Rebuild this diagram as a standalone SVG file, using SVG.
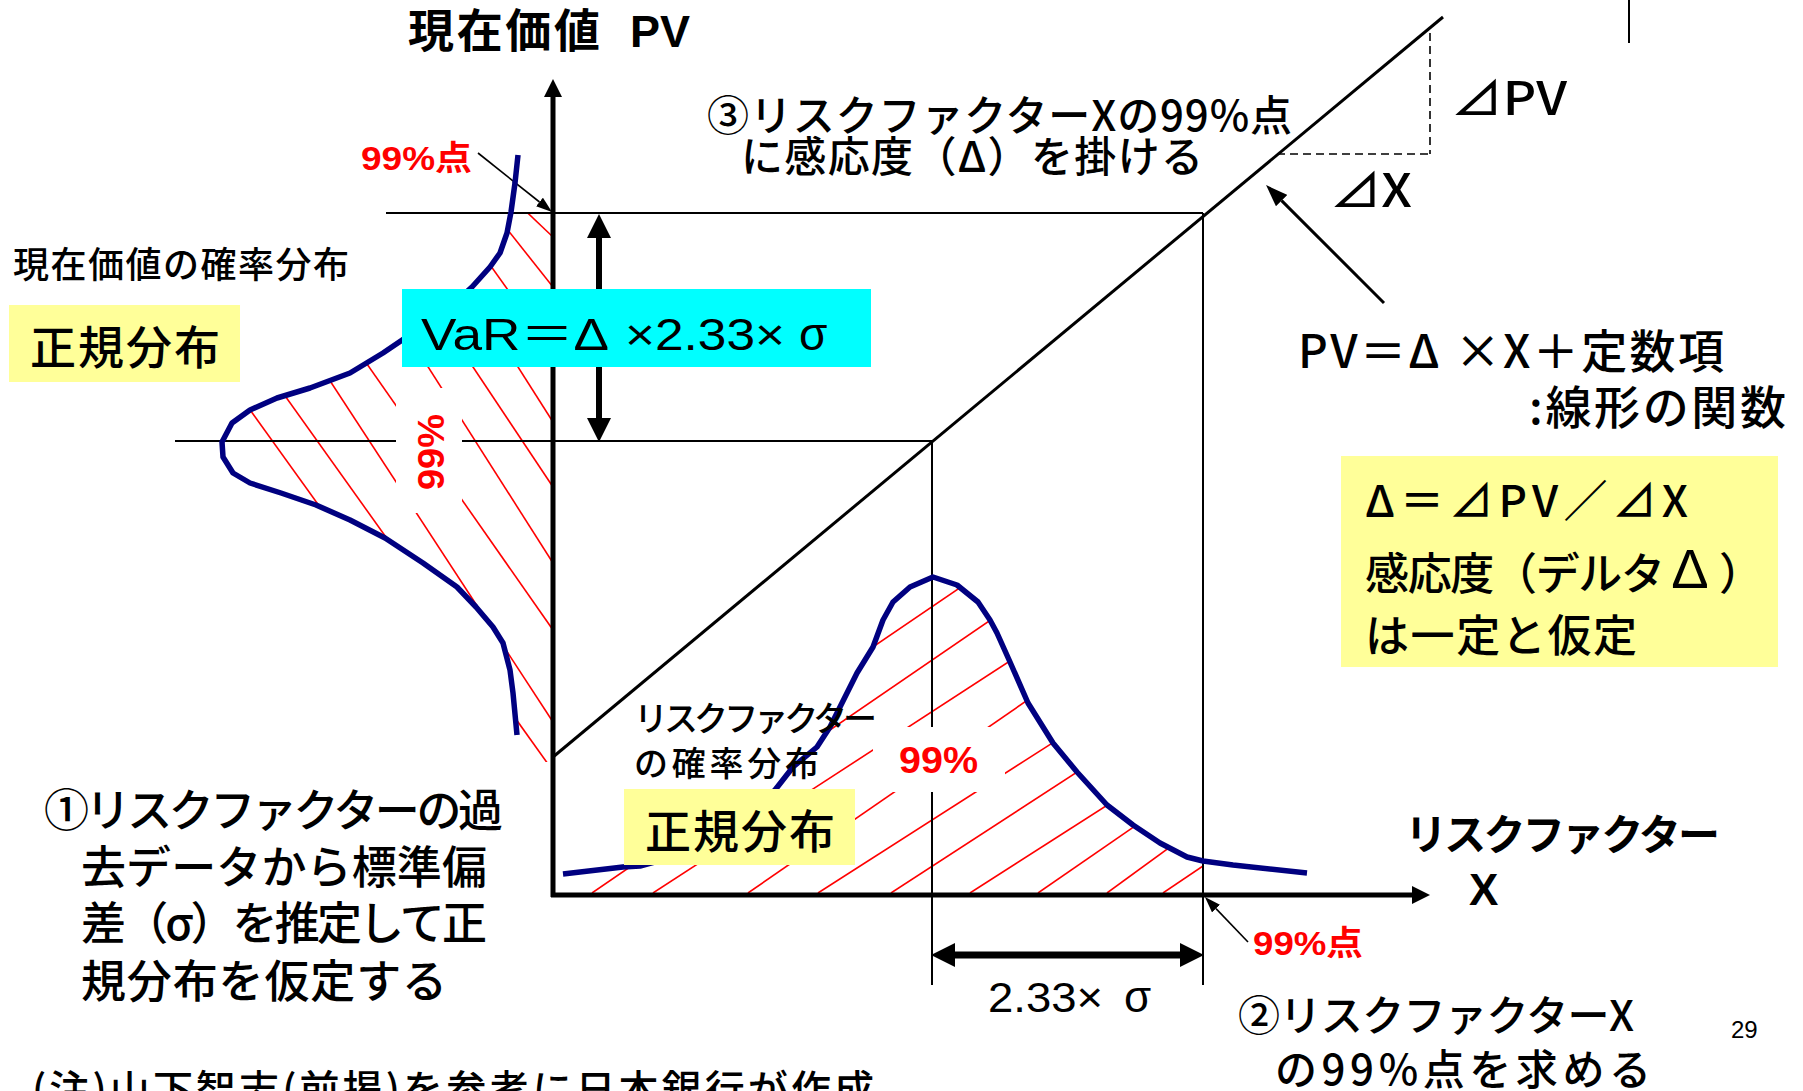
<svg xmlns="http://www.w3.org/2000/svg" width="1803" height="1091" viewBox="0 0 1803 1091">
<style>
.jp{font-family:"Noto Sans CJK JP","Noto Sans CJK SC",sans-serif;fill:#000;font-weight:500}
.lat{font-family:"Liberation Sans","Noto Sans CJK JP",sans-serif;fill:#000}
.b{font-weight:bold}
.red{fill:#f00;font-weight:bold}
.hatch line{stroke:#f00;stroke-width:1.6}
.thin{stroke:#000;stroke-width:2;fill:none}
.dash{stroke:#000;stroke-width:1.6;stroke-dasharray:8 5;fill:none}
.curve{stroke:#000080;stroke-width:5.5;fill:none;stroke-linejoin:round}
.axis{stroke:#000;stroke-width:5;fill:none}
.yel{fill:#ffff99}
</style>
<defs>
<marker id="ah" markerUnits="userSpaceOnUse" markerWidth="24" markerHeight="24" refX="0" refY="12" orient="auto-start-reverse"><path d="M0,0L24,12L0,24Z" fill="#000"/></marker>
<marker id="ax" markerUnits="userSpaceOnUse" markerWidth="18" markerHeight="18" refX="0" refY="9" orient="auto"><path d="M0,0L18,9L0,18Z" fill="#000"/></marker>
<marker id="la" markerUnits="userSpaceOnUse" markerWidth="16" markerHeight="11" refX="0" refY="5.5" orient="auto"><path d="M0,0L16,5.5L0,11Z" fill="#000"/></marker>
<marker id="lb" markerUnits="userSpaceOnUse" markerWidth="22" markerHeight="16" refX="0" refY="8" orient="auto"><path d="M0,0L22,8L0,16Z" fill="#000"/></marker>
<clipPath id="clipL"><polygon points="511,213 507,233 500,253 490,267 472,287 450,307 417,330 383,353 350,373 310,388 277,398 250,410 232,423 222,442 223,457 233,473 250,483 281,493 316,505 350,520 385,538 423,563 457,587 476,607 493,627 503,643 510,670 513,693 517,735 522,748 545,762 553,762 553,213"/></clipPath>
<clipPath id="clipB"><polygon points="563,873 623,867 640,866 680,855 720,838 750,815 775,790 793,767 817,747 830,727 840,707 857,673 873,647 883,620 893,602 910,587 933,577 957,585 978,602 990,620 997,633 1010,662 1028,703 1053,743 1077,772 1107,805 1133,825 1160,843 1187,857 1203,861 1203,893 563,893"/></clipPath>
</defs>
<rect width="1803" height="1091" fill="#fff"/>

<g id="hatch-pv" class="hatch" clip-path="url(#clipL)">
<line x1="203" y1="-95.5" x2="553" y2="237"/>
<line x1="203" y1="-154" x2="553" y2="287"/>
<line x1="203" y1="-137" x2="553" y2="353"/>
<line x1="203" y1="-127.5" x2="553" y2="422"/>
<line x1="203" y1="-38" x2="553" y2="487"/>
<line x1="203" y1="13.5" x2="553" y2="563"/>
<line x1="203" y1="129.5" x2="553" y2="630"/>
<line x1="203" y1="186.5" x2="553" y2="722"/>
<line x1="203" y1="281" x2="553" y2="771"/>
<line x1="203" y1="344.5" x2="553" y2="831"/>
</g>
<g id="hatch-x" class="hatch" clip-path="url(#clipB)">
<line x1="511" y1="893" x2="1011" y2="553"/>
<line x1="592" y1="893" x2="1092" y2="550.5"/>
<line x1="653" y1="893" x2="1153" y2="568"/>
<line x1="748" y1="893" x2="1248" y2="548"/>
<line x1="818" y1="893" x2="1318" y2="573"/>
<line x1="891" y1="893" x2="1391" y2="568"/>
<line x1="970" y1="893" x2="1470" y2="573"/>
<line x1="1038" y1="893" x2="1538" y2="548"/>
<line x1="1107" y1="893" x2="1607" y2="528"/>
<line x1="1163" y1="893" x2="1663" y2="555.5"/>
</g>

<g id="connectors">
<line class="thin" x1="386" y1="213" x2="1203" y2="213"/>
<line class="thin" x1="175" y1="441" x2="932" y2="441"/>
<line class="thin" x1="1203" y1="213" x2="1203" y2="985"/>
<line class="thin" x1="932" y1="441" x2="932" y2="985"/>
<line class="thin" x1="1629" y1="0" x2="1629" y2="43"/>
<line stroke="#000" stroke-width="3" x1="553" y1="757" x2="1443" y2="17"/>
<line class="dash" x1="1430" y1="33" x2="1430" y2="154"/>
<line class="dash" x1="1277" y1="154" x2="1430" y2="154"/>
<line class="axis" x1="553" y1="897" x2="553" y2="97" marker-end="url(#ax)"/>
<line class="axis" x1="551" y1="895" x2="1412" y2="895" marker-end="url(#ax)"/>
<line stroke="#000" stroke-width="6" x1="599" y1="238" x2="599" y2="418" marker-start="url(#ah)" marker-end="url(#ah)"/>
<line stroke="#000" stroke-width="7" x1="955" y1="955" x2="1180" y2="955" marker-start="url(#ah)" marker-end="url(#ah)"/>
<line stroke="#000" stroke-width="1.6" x1="478" y1="153" x2="539.5" y2="202" marker-end="url(#la)"/>
<line stroke="#000" stroke-width="1.6" x1="1248" y1="942" x2="1216" y2="908.6" marker-end="url(#la)"/>
<line stroke="#000" stroke-width="3" x1="1384" y1="303" x2="1281.6" y2="200.6" marker-end="url(#lb)"/>
</g>

<g id="curve-pv">
<polyline class="curve" points="518,155 515,183 511,212 507,233 500,253 490,267 472,287 450,307 417,330 383,353 350,373 310,388 277,398 250,410 232,423 222,442 223,457 233,473 250,483 281,493 316,505 350,520 385,538 423,563 457,587 476,607 493,627 503,643 510,670 513,693 517,735"/>
</g>
<g id="curve-x">
<polyline class="curve" points="563,874 623,867 640,866 680,855 720,838 750,815 775,790 793,767 817,747 830,727 840,707 857,673 873,647 883,620 893,602 910,587 933,577 957,585 978,602 990,620 997,633 1010,662 1028,703 1053,743 1077,772 1107,805 1133,825 1160,843 1187,857 1203,861 1233,865 1307,873"/>
</g>

<g id="label-99-pv">
<rect x="396" y="388" width="66" height="125" fill="#fff"/>
<text class="lat red" font-size="36" text-anchor="middle" transform="translate(444,452) rotate(-90)" textLength="76" lengthAdjust="spacingAndGlyphs">99%</text>
</g>
<g id="label-99-x">
<rect x="873" y="727" width="132" height="65" fill="#fff"/>
<text class="lat red" font-size="36" x="899" y="773" textLength="79" lengthAdjust="spacingAndGlyphs">99%</text>
</g>

<g id="title">
<text class="jp b" font-size="46" x="408" y="47" textLength="192">現在価値</text>
<text class="lat b" font-size="44" x="630" y="47" textLength="60" lengthAdjust="spacingAndGlyphs">PV</text>
</g>
<g id="pt99-pv"><text class="lat red" font-size="34" x="361" y="170" textLength="111" lengthAdjust="spacingAndGlyphs">99%点</text></g>
<g id="pv-dist-label"><text class="jp" font-size="36" x="13" y="278" textLength="336">現在価値の確率分布</text></g>
<g id="box-normal-pv">
<rect class="yel" x="9" y="305" width="231" height="77"/>
<text class="jp" font-size="46" x="30" y="364" textLength="190">正規分布</text>
</g>
<g id="box-var">
<rect fill="#00ffff" x="402" y="289" width="469" height="78"/>
<text class="lat" font-size="44" x="421" y="350" textLength="188" lengthAdjust="spacingAndGlyphs">VaR＝Δ</text>
<text class="lat" font-size="44" x="625" y="350" textLength="160" lengthAdjust="spacingAndGlyphs">×2.33×</text>
<text class="lat" font-size="46" x="799" y="350">σ</text>
</g>
<g id="step3">
<text class="jp" font-size="42" x="707" y="131" textLength="585">③リスクファクターXの99%点</text>
<text class="jp" font-size="42" x="741" y="172" textLength="462">に感応度（Δ）を掛ける</text>
</g>
<g id="dpv"><text class="jp" font-size="46" x="1451" y="115" textLength="116" lengthAdjust="spacingAndGlyphs">⊿PV</text></g>
<g id="dx"><text class="jp" font-size="46" x="1330" y="207" textLength="82" lengthAdjust="spacingAndGlyphs">⊿X</text></g>
<g id="formula">
<text class="jp" font-size="46" x="1298" y="368" textLength="426">PV＝Δ ×X＋定数項</text>
<text class="jp" font-size="46" x="1529" y="424" textLength="257">:線形の関数</text>
</g>
<g id="box-delta">
<rect class="yel" x="1341" y="456" width="437" height="211"/>
<text class="jp" font-size="44" x="1365" y="517" textLength="323">Δ＝⊿PV／⊿X</text>
<text class="jp" font-size="44" x="1365" y="590" textLength="300">感応度（デルタ</text>
<text class="lat" font-size="56" x="1690" y="588" text-anchor="middle">Δ</text>
<text class="jp" font-size="44" x="1719" y="590">）</text>
<text class="jp" font-size="44" x="1365" y="652" textLength="272">は一定と仮定</text>
</g>
<g id="x-dist-label">
<text class="jp" font-size="34" x="634" y="731" textLength="243">リスクファクター</text>
<text class="jp" font-size="34" x="634" y="776" textLength="185">の確率分布</text>
</g>
<g id="box-normal-x">
<rect class="yel" x="624" y="789" width="231" height="76"/>
<text class="jp" font-size="46" x="645" y="848" textLength="190">正規分布</text>
</g>
<g id="x-axis-label">
<text class="jp b" font-size="42" x="1405" y="850" textLength="315">リスクファクター</text>
<text class="lat b" font-size="44" x="1469" y="905">X</text>
</g>
<g id="pt99-x"><text class="lat red" font-size="34" x="1253" y="955" textLength="110" lengthAdjust="spacingAndGlyphs">99%点</text></g>
<g id="sigma-label">
<text class="lat" font-size="42" x="988" y="1012" textLength="115" lengthAdjust="spacingAndGlyphs">2.33×</text>
<text class="lat" font-size="44" x="1124" y="1012">σ</text>
</g>
<g id="step2">
<text class="jp" font-size="42" x="1238" y="1031" textLength="396">②リスクファクターX</text>
<text class="jp" font-size="42" x="1275" y="1085" textLength="376">の99%点を求める</text>
</g>
<g id="page"><text class="lat" font-size="24" x="1731" y="1038">29</text></g>
<g id="step1">
<text class="jp" font-size="45" x="44" y="827" textLength="459">①リスクファクターの過</text>
<text class="jp" font-size="45" x="81" y="884" textLength="406">去データから標準偏</text>
<text class="jp" font-size="45" x="81" y="940" textLength="406">差（σ）を推定して正</text>
<text class="jp" font-size="45" x="81" y="998" textLength="366">規分布を仮定する</text>
</g>
<g id="note"><text class="jp" font-size="40" x="32" y="1104" textLength="842">(注)山下智志(前掲)を参考に日本銀行が作成</text></g>
</svg>
